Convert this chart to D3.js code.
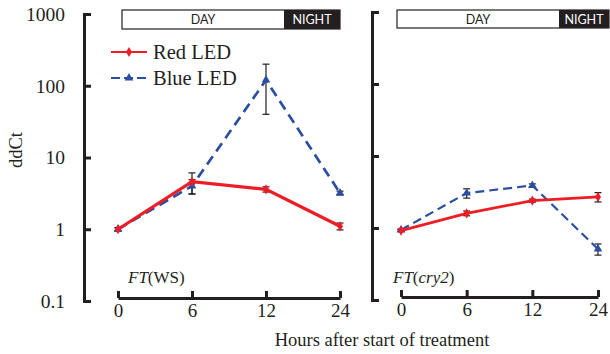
<!DOCTYPE html>
<html>
<head>
<meta charset="utf-8">
<script src="https://cdn.jsdelivr.net/npm/d3@7/dist/d3.min.js"></script>
<style>
  html, body { margin: 0; padding: 0; background: #fff; }
  svg { display: block; }
  text { font-family: "Liberation Serif", "Times New Roman", serif; fill: #231f20; }
</style>
</head>
<body>
<svg id="chart" width="610" height="354"></svg>
<script>
// ---- data ----
const hours = ["0", "6", "12", "24"];
const yTicks = [0.1, 1, 10, 100, 1000];

const wsRed = [1, 4.6, 3.6, 1.1];
const wsRedErr = [0.05, 1.5, 0.3, 0.12];
const wsBlue = [1, 4.0, 120, 3.2];
const wsBlueErr = [0.05, 0.9, 80, 0.2];

const cry2Red = [0.92, 1.6, 2.4, 2.7];
const cry2RedErr = [0.03, 0.12, 0.12, 0.4];
const cry2Blue = [0.94, 3.05, 3.9, 0.51];
const cry2BlueErr = [0.03, 0.45, 0.2, 0.09];

const seriesNames = ["Red LED", "Blue LED"];
const RED = "#ee1c24", BLUE = "#2b4ea2", INK = "#231f20";

const svg = d3.select("#chart");

const panels = [
  { xr: [118, 340], yr: [301, 14], axisX: 84, axisY: 298, labels: true,
    red: wsRed, redErr: wsRedErr, blue: wsBlue, blueErr: wsBlueErr,
    gene: [["FT", true], ["(WS)", false]], geneX: 128,
    box: [122, 340, 284], boxY: [10, 29], redW: 3.2, blueW: 2.7, dash: "10,6" },
  { xr: [401, 598], yr: [300, 12], axisX: 372, axisY: 297, labels: false,
    red: cry2Red, redErr: cry2RedErr, blue: cry2Blue, blueErr: cry2BlueErr,
    gene: [["FT", true], ["(", false], ["cry2", true], [")", false]], geneX: 393,
    box: [397, 609, 559], boxY: [10, 28], redW: 2.8, blueW: 2.2, dash: "9,5" }
];

const diamond = d3.symbol().type(d3.symbolDiamond).size(30);
const triangle = d3.symbol().type(d3.symbolTriangle).size(32);

panels.forEach(p => {
  const x = d3.scalePoint().domain(hours).range(p.xr);
  const y = d3.scaleLog().domain([0.1, 1000]).range(p.yr);
  const g = svg.append("g");

  // y axis
  const ya = d3.axisLeft(y).tickValues(yTicks)
    .tickSizeInner(-7).tickSizeOuter(-7).tickPadding(19)
    .tickFormat(d => p.labels ? String(d) : "");
  const yg = g.append("g").attr("transform", `translate(${p.axisX},0)`).call(ya);
  yg.attr("font-family", null);
  yg.select(".domain").attr("stroke", INK).attr("stroke-width", 3).attr("fill", "none");
  yg.selectAll(".tick line").attr("stroke", INK).attr("stroke-width", 3);
  yg.selectAll(".tick text").style("font-family", "'Liberation Serif', serif").style("font-size", "19.5px").attr("fill", INK);

  // x axis
  const xa = d3.axisBottom(x).tickSizeInner(-7).tickSizeOuter(0).tickPadding(6);
  const xg = g.append("g").attr("transform", `translate(0,${p.axisY})`).call(xa);
  xg.attr("font-family", null);
  xg.select(".domain").attr("stroke", INK).attr("stroke-width", 3);
  xg.selectAll(".tick line").attr("stroke", INK).attr("stroke-width", 3);
  xg.selectAll(".tick text").style("font-family", "'Liberation Serif', serif").style("font-size", "19px").attr("fill", INK);

  // day/night bar
  g.append("rect").attr("x", p.box[0]).attr("y", p.boxY[0])
    .attr("width", p.box[1] - p.box[0]).attr("height", p.boxY[1] - p.boxY[0])
    .attr("fill", "#fff").attr("stroke", INK).attr("stroke-width", 1.2);
  g.append("rect").attr("x", p.box[2]).attr("y", p.boxY[0])
    .attr("width", p.box[1] - p.box[2]).attr("height", p.boxY[1] - p.boxY[0])
    .attr("fill", INK);
  const bm = (p.boxY[0] + p.boxY[1]) / 2;
  g.append("text").attr("x", (p.box[0] + p.box[2]) / 2).attr("y", bm + 4.5)
    .attr("text-anchor", "middle").style("font-family", "Lato, 'Open Sans', sans-serif")
    .style("font-size", "12.5px").text("DAY");
  g.append("text").attr("x", (p.box[2] + p.box[1]) / 2).attr("y", bm + 4.5)
    .attr("text-anchor", "middle").style("font-family", "Lato, 'Open Sans', sans-serif")
    .style("font-size", "12.5px").style("fill", "#fff").text("NIGHT");

  // gene label
  const gt = g.append("text").attr("x", p.geneX).attr("y", 283).style("font-size", "17px");
  p.gene.forEach(([t, it]) => gt.append("tspan").style("font-style", it ? "italic" : "normal").text(t));

  const line = d3.line().x((d, i) => x(hours[i])).y(d => y(d));

  function errbars(vals, errs) {
    vals.forEach((v, i) => {
      const cx = x(hours[i]);
      const y1 = y(v + errs[i]), y2 = y(Math.max(v - errs[i], 0.11));
      g.append("line").attr("x1", cx).attr("x2", cx).attr("y1", y1).attr("y2", y2)
        .attr("stroke", INK).attr("stroke-width", 1.2);
      [y1, y2].forEach(yy => g.append("line").attr("x1", cx - 3.5).attr("x2", cx + 3.5)
        .attr("y1", yy).attr("y2", yy).attr("stroke", INK).attr("stroke-width", 1.2));
    });
  }
  errbars(p.red, p.redErr);
  errbars(p.blue, p.blueErr);

  // blue dashed
  g.append("path").datum(p.blue).attr("d", line).attr("fill", "none")
    .attr("stroke", BLUE).attr("stroke-width", p.blueW).attr("stroke-dasharray", p.dash);
  g.selectAll(null).data(p.blue).enter().append("path")
    .attr("d", triangle).attr("fill", BLUE)
    .attr("transform", (d, i) => `translate(${x(hours[i])},${y(d)})`);

  // red solid
  g.append("path").datum(p.red).attr("d", line).attr("fill", "none")
    .attr("stroke", RED).attr("stroke-width", p.redW);
  g.selectAll(null).data(p.red).enter().append("path")
    .attr("d", diamond).attr("fill", RED)
    .attr("transform", (d, i) => `translate(${x(hours[i])},${y(d)})`);
});

// legend
const leg = svg.append("g");
seriesNames.forEach((name, i) => {
  const yy = 52 + i * 26;
  const c = i === 0 ? RED : BLUE;
  leg.append("line").attr("x1", 111).attr("x2", 147).attr("y1", yy).attr("y2", yy)
    .attr("stroke", c).attr("stroke-width", 2)
    .attr("stroke-dasharray", i === 0 ? null : "9,4");
  leg.append("path").attr("d", i === 0 ? diamond : triangle).attr("fill", c)
    .attr("transform", `translate(129,${yy})`);
  leg.append("text").attr("x", 153).attr("y", yy + 7).style("font-size", "20.5px").text(name);
});

// axis titles
svg.append("text").attr("transform", "translate(22,150) rotate(-90)")
  .attr("text-anchor", "middle").style("font-size", "18.5px").text("ddCt");
svg.append("text").attr("x", 382).attr("y", 346)
  .attr("text-anchor", "middle").style("font-size", "18.5px").text("Hours after start of treatment");
</script>
</body>
</html>
